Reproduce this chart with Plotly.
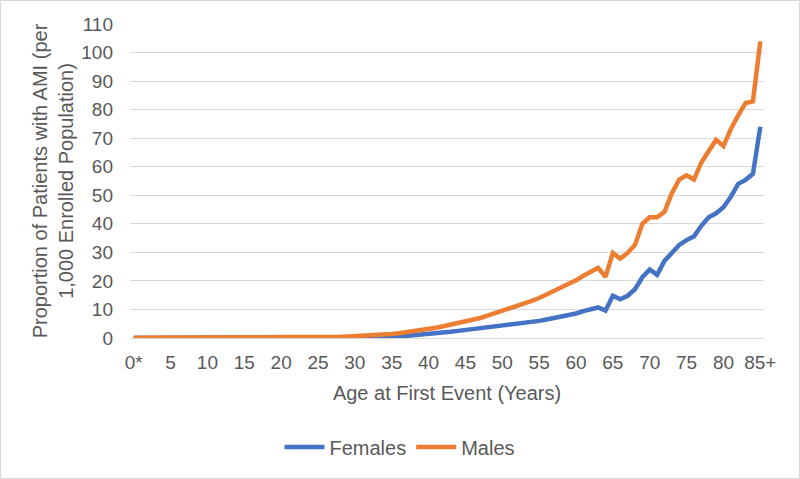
import plotly.graph_objects as go

ages = ["0*"] + [str(a) for a in range(1, 85)] + ["85+"]

females = [0.0]*30 + [0.05, 0.05, 0.1, 0.15, 0.2, 0.3, 0.5, 0.7, 0.9, 1.2,
           1.5, 1.8, 2.0, 2.2, 2.5, 2.8, 3.0, 3.3, 3.7, 4.0,
           4.2, 4.5, 4.8, 5.2, 5.6, 6.0, 6.5, 7.0, 7.5, 7.9,
           8.6, 9.4, 10.2, 10.7, 9.6, 14.8, 13.6, 14.8, 17.1, 21.3,
           24.0, 22.1, 27.0, 30.0, 32.6, 34.3, 35.6, 39.3, 42.3, 43.7,
           45.8, 49.5, 54.0, 55.4, 57.5, 74.0]

males = [0.05]*16 + [0.1, 0.3, 0.3, 0.3, 0.3, 0.3, 0.3, 0.3, 0.3, 0.3,
         0.4, 0.4, 0.4, 0.5, 0.6, 0.7, 0.8, 1.0, 1.2, 1.4, 1.7, 2.0, 2.3, 2.8,
         3.2, 3.6, 4.1, 4.6, 5.2, 5.8, 6.4, 7.0, 7.8, 8.6,
         9.4, 10.2, 11.2, 12.0, 13.0, 14.0, 15.2, 16.3, 17.5, 18.8,
         20.2, 21.8, 23.2, 24.6, 21.4, 29.8, 27.8, 29.8, 32.6, 40.0,
         42.3, 42.3, 44.2, 50.7, 55.5, 57.0, 55.5, 61.5, 65.5, 69.4,
         67.2, 73.2, 78.0, 82.3, 82.9, 103.9]

font = "Liberation Sans, Arial, sans-serif"
grey = "#595959"

fig = go.Figure()
fig.add_trace(go.Scatter(x=ages, y=females, name="Females", mode="lines",
                         line=dict(color="#4472C4", width=4.5)))
fig.add_trace(go.Scatter(x=ages, y=males, name="Males", mode="lines",
                         line=dict(color="#ED7D31", width=4.5)))

L, R, T, B = 130, 36, 24, 141
W, H = 800, 479
pw, ph = W - L - R, H - T - B

fig.update_layout(
    width=W, height=H,
    margin=dict(l=L, r=R, t=T, b=B, autoexpand=False),
    paper_bgcolor="white", plot_bgcolor="white",
    font=dict(family=font, size=19, color=grey),
    showlegend=True,
    legend=dict(orientation="h", xref="container", yref="container",
                x=0.5, xanchor="center", y=1 - 447 / H, yanchor="middle",
                font=dict(size=20, color=grey), itemwidth=40),
    xaxis=dict(type="category", range=[-0.5, 85.5], dtick=5,
               showgrid=False, showline=True, linecolor="#d9d9d9",
               ticks="", ticklabelstandoff=7, tickangle=0,
               tickfont=dict(size=19, color=grey),
               title=dict(text="Age at First Event (Years)", standoff=14,
                          font=dict(size=20, color=grey))),
    yaxis=dict(range=[0, 110], dtick=10, showgrid=True, gridcolor="#d9d9d9",
               gridwidth=1, zeroline=False, showline=False, ticks="",
               ticklabelstandoff=16, tickfont=dict(size=19, color=grey),
               title=dict(text="Proportion of Patients with AMI (per<br>1,000 Enrolled Population)",
                          standoff=2, font=dict(size=20, color=grey))),
)

fig.add_shape(type="rect", xref="paper", yref="paper",
              x0=(0.5 - L) / pw, x1=(W - 0.5 - L) / pw,
              y0=(H - B - (H - 0.5)) / ph, y1=(H - B - 0.5) / ph,
              line=dict(color="#d9d9d9", width=1), fillcolor="rgba(0,0,0,0)",
              layer="below")

fig.write_html("out.html", config={"displayModeBar": False},
               post_script="document.body.style.margin='0px';")
